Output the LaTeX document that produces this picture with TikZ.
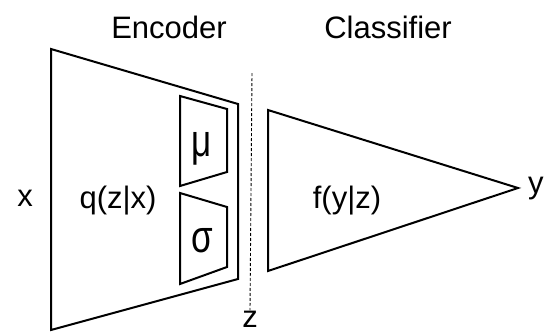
\documentclass[tikz,border=0pt]{standalone}
\usepackage{fontspec}
\setmainfont{Liberation Sans}
\begin{document}
\begin{tikzpicture}[x=1pt,y=-1pt,
  block/.style={draw=black,line width=2pt,line join=miter},
  lbl/.style={inner sep=0pt,font=\fontsize{31}{31}\selectfont},
  greek/.style={inner sep=0pt,font=\fontsize{35}{35}\selectfont},
  zline/.style={draw=black,line width=0.9pt,dash pattern=on 3pt off 2pt}]
\useasboundingbox (0,0) rectangle (544,333);
% encoder
\coordinate (e1) at (51,49);
\coordinate (e2) at (238,104);
\coordinate (e3) at (238,279);
\coordinate (e4) at (51,330);
\draw[block] (e1) -- (e2) -- (e3) -- (e4) -- cycle;
% mu box
\coordinate (m1) at (180,96);
\coordinate (m2) at (227,109);
\coordinate (m3) at (227,172);
\coordinate (m4) at (180,186);
\draw[block] (m1) -- (m2) -- (m3) -- (m4) -- cycle;
% sigma box
\coordinate (s1) at (180,193);
\coordinate (s2) at (227,207);
\coordinate (s3) at (227,267);
\coordinate (s4) at (180,284);
\draw[block] (s1) -- (s2) -- (s3) -- (s4) -- cycle;
% classifier
\coordinate (c1) at (268,110);
\coordinate (c2) at (518,188);
\coordinate (c3) at (268,271);
\draw[block] (c1) -- (c2) -- (c3) -- cycle;
% z line
\coordinate (ztop) at (252,73);
\node[lbl,anchor=base] (z) at (250,327) {z};
\draw[zline] (ztop) -- (z.north);
% labels
\node[lbl,anchor=base] (enc) at (169,38) {Encoder};
\node[lbl,anchor=base] (cls) at (388,38) {Classifier};
\node[lbl,anchor=base] (x) at (25,206) {x};
\node[lbl,anchor=base] (q) at (118,208) {q(z|x)};
\node[lbl,anchor=base] (f) at (347,208) {f(y|z)};
\node[lbl,anchor=base west] (y) at (528,193) {y};
\node[greek,anchor=base] (mu) at (202,156) {\scalebox{1}[1.3]{μ}};
\node[greek,anchor=base] (sig) at (202,252) {\scalebox{1}[1.3]{σ}};
\end{tikzpicture}
\end{document}
